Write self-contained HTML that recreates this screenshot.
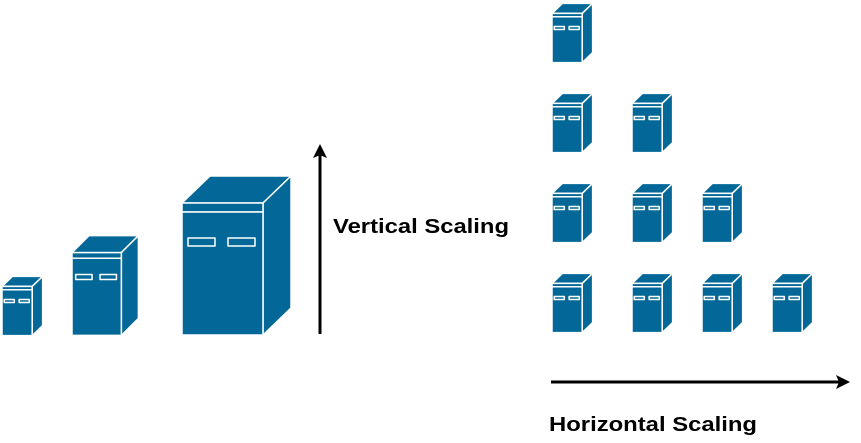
<!DOCTYPE html>
<html><head><style>body{margin:0;background:#fff}svg{display:block}#srv *{vector-effect:non-scaling-stroke}</style></head><body>
<svg width="861" height="443" viewBox="0 0 861 443" xmlns="http://www.w3.org/2000/svg">
<defs>
<symbol id="srv" viewBox="0 0 110 161" preserveAspectRatio="none">
<g fill="#036897" stroke="#fff" stroke-width="1.5" stroke-linejoin="round">
<polygon points="0,28 28,1 109,1 81,28" vector-effect="non-scaling-stroke"/>
<polygon points="81,28 109,1 109,133 81,160" vector-effect="non-scaling-stroke"/>
<rect x="0" y="28" width="81" height="9" vector-effect="non-scaling-stroke"/>
<rect x="0" y="37" width="81" height="123" vector-effect="non-scaling-stroke"/>
<rect x="6" y="63" width="27" height="8" vector-effect="non-scaling-stroke"/>
<rect x="46" y="63" width="27" height="8" vector-effect="non-scaling-stroke"/>
</g>
</symbol>
</defs>
<use href="#srv" x="2" y="276" width="41" height="60"/>
<use href="#srv" x="72" y="235" width="67" height="101"/>
<use href="#srv" x="182" y="175" width="110" height="161"/>
<use href="#srv" x="552" y="3" width="41" height="60"/>
<use href="#srv" x="552" y="93" width="41" height="60"/>
<use href="#srv" x="632" y="93" width="41" height="60"/>
<use href="#srv" x="552" y="183" width="41" height="60"/>
<use href="#srv" x="632" y="183" width="41" height="60"/>
<use href="#srv" x="702" y="183" width="41" height="60"/>
<use href="#srv" x="552" y="273" width="41" height="60"/>
<use href="#srv" x="632" y="273" width="41" height="60"/>
<use href="#srv" x="702" y="273" width="41" height="60"/>
<use href="#srv" x="772" y="273" width="41" height="60"/>
<line x1="320" y1="334" x2="320" y2="155" stroke="#000" stroke-width="3"/>
<polygon points="320,144 327,158 320,155 313,158" fill="#000"/>
<line x1="551" y1="382" x2="839" y2="382" stroke="#000" stroke-width="3"/>
<polygon points="850,382 836,389 839,382 836,375" fill="#000"/>
<text x="333" y="233" font-family="Liberation Sans, sans-serif" font-weight="bold" font-size="20" textLength="176" lengthAdjust="spacingAndGlyphs">Vertical Scaling</text>
<text x="549" y="431" font-family="Liberation Sans, sans-serif" font-weight="bold" font-size="20" textLength="208" lengthAdjust="spacingAndGlyphs">Horizontal Scaling</text>
</svg>
</body></html>
